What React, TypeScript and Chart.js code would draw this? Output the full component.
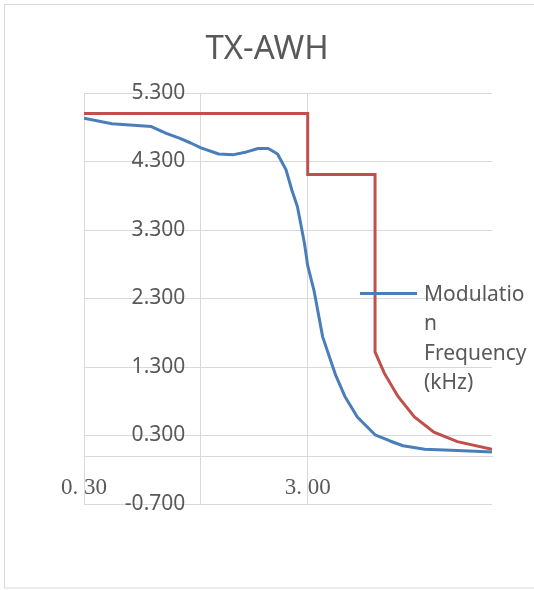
import React, { useEffect, useRef } from 'react';
import { Chart, registerables } from 'chart.js';

Chart.register(...registerables);

const chartTitle = 'TX-AWH';
const legendLines = ['Modulatio', 'n', 'Frequency', '(kHz)'];
const seriesLabel = 'Modulation Frequency (kHz)';

const blueFreq = [0.3, 0.4, 0.6, 0.7, 0.8, 0.9, 1.0, 1.2, 1.4, 1.6, 1.8, 2.0, 2.2, 2.4, 2.55, 2.7, 2.9, 3.0, 3.2, 3.5, 4.0, 4.4, 5.0, 6.0, 7.0, 8.0, 10, 14, 20];
const blueValue = [4.93, 4.85, 4.81, 4.71, 4.64, 4.57, 4.5, 4.41, 4.4, 4.44, 4.49, 4.49, 4.41, 4.18, 3.88, 3.64, 3.11, 2.78, 2.42, 1.74, 1.18, 0.87, 0.57, 0.31, 0.22, 0.15, 0.1, 0.08, 0.06];

const redFreq = [0.3, 3, 3, 6, 6, 6.6, 7.6, 9, 11, 14, 20];
const redValue = [5.0, 5.0, 4.11, 4.11, 1.52, 1.21, 0.87, 0.57, 0.35, 0.21, 0.1];

// x gridlines (0.3 and 3 labelled; 1 is where the value axis crosses)
const xTickValues = [0.3, 1, 3];
const xLabelledTicks = [0.3, 3];
const yTickValues = [-0.7, 0.3, 1.3, 2.3, 3.3, 4.3, 5.3];
const yLabelAnchor = 0.851; // value-axis labels sit just left of the crossing at x = 1

const TEXT = '#595959';
const GRID = '#d9d9d9';
const BLUE = '#4a7ebb';
const RED = '#c0504d';

export default function App() {
  const ref = useRef<HTMLCanvasElement | null>(null);

  useEffect(() => {
    if (!ref.current) return;

    const frame = {
      id: 'frame',
      beforeDraw(chart: any) {
        const ctx = chart.ctx;
        ctx.save();
        ctx.fillStyle = '#ffffff';
        ctx.fillRect(0, 0, chart.width, chart.height);
        ctx.strokeStyle = GRID;
        ctx.lineWidth = 1;
        ctx.strokeRect(4.5, 4.5, chart.width + 20, 583.5);
        ctx.restore();
      },
    };

    const sideLegend = {
      id: 'sideLegend',
      afterDraw(chart: any) {
        const ctx = chart.ctx;
        const area = chart.chartArea;
        const lineY = 293.5;
        const x0 = area.right - 132;
        ctx.save();
        ctx.strokeStyle = BLUE;
        ctx.lineWidth = 3;
        ctx.beginPath();
        ctx.moveTo(x0, lineY);
        ctx.lineTo(x0 + 57, lineY);
        ctx.stroke();
        ctx.fillStyle = TEXT;
        ctx.font = '21px "Noto Sans"';
        ctx.textAlign = 'left';
        ctx.textBaseline = 'alphabetic';
        legendLines.forEach((t, i) => {
          ctx.fillText(t, x0 + 64, 301 + i * 29.3);
        });
        ctx.restore();
      },
    };

    const chart = new Chart(ref.current, {
      type: 'line',
      data: {
        datasets: [
          {
            label: seriesLabel,
            data: blueFreq.map((x, i) => ({ x, y: blueValue[i] })),
            borderColor: BLUE,
            backgroundColor: BLUE,
            borderWidth: 3,
            pointRadius: 0,
            tension: 0,
            fill: false,
            borderJoinStyle: 'round',
          },
          {
            label: 'Limit',
            data: redFreq.map((x, i) => ({ x, y: redValue[i] })),
            borderColor: RED,
            backgroundColor: RED,
            borderWidth: 3,
            pointRadius: 0,
            tension: 0,
            fill: false,
          },
        ],
      },
      options: {
        responsive: false,
        animation: false,
        layout: { padding: { left: 42, right: 42, top: 0, bottom: 86 } },
        plugins: {
          legend: { display: false },
          tooltip: { enabled: false },
          title: {
            display: true,
            text: chartTitle,
            color: TEXT,
            font: { family: '"Noto Sans"', size: 33, weight: 'normal' },
            padding: { top: 30, bottom: 23.4 },
          },
        },
        scales: {
          x: {
            type: 'logarithmic',
            min: 0.3,
            max: 20,
            position: { y: 0 },
            afterBuildTicks: (scale: any) => {
              scale.ticks = xTickValues.map((v) => ({ value: v }));
            },
            ticks: {
              autoSkip: false,
              maxRotation: 0,
              padding: 18,
              color: TEXT,
              font: { family: '"Liberation Serif"', size: 23 },
              callback: (v: any) =>
                xLabelledTicks.includes(Number(v)) ? Number(v).toFixed(2).replace('.', '. ') : '',
            },
            grid: { color: GRID, lineWidth: 1, drawTicks: false },
            border: { display: true, color: GRID, width: 1 },
          },
          y: {
            type: 'linear',
            min: -0.7,
            max: 5.3,
            position: { x: yLabelAnchor },
            afterBuildTicks: (scale: any) => {
              scale.ticks = yTickValues.map((v) => ({ value: v }));
            },
            ticks: {
              autoSkip: false,
              padding: 0,
              color: TEXT,
              font: { family: '"Noto Sans"', size: 21 },
              callback: (v: any) => Number(v).toFixed(3),
            },
            grid: { color: GRID, lineWidth: 1, drawTicks: false },
            border: { display: false },
          },
          leftSpace: {
            type: 'linear',
            position: 'left',
            display: true,
            afterFit: (scale: any) => {
              scale.width = 42;
            },
            ticks: { display: false },
            grid: { display: false, drawTicks: false },
            border: { display: false },
          },
        },
      } as any,
      plugins: [frame, sideLegend],
    } as any);

    return () => chart.destroy();
  }, []);

  return (
    <div style={{ position: 'fixed', left: 0, top: 0, width: 534, height: 590 }}>
      <canvas ref={ref} width={534} height={590} style={{ display: 'block' }} />
    </div>
  );
}
